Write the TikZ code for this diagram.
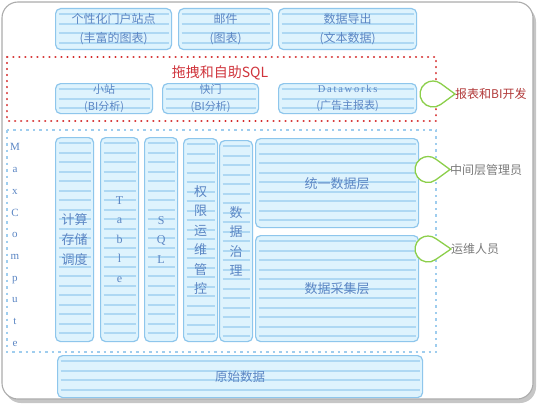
\documentclass[tikz,border=0pt]{standalone}
\usepackage{fontspec}
\setmainfont{Liberation Serif}
\newfontfamily\cjk{Noto Sans CJK SC}
\usetikzlibrary{calc}
\definecolor{boxfill}{HTML}{DEF3FD}
\definecolor{stripecol}{HTML}{AED8F3}
\definecolor{boxline}{HTML}{8EC6EC}
\definecolor{boxtext}{HTML}{5B86C4}
\definecolor{titlered}{HTML}{D0343C}
\definecolor{dotred}{HTML}{D42A2A}
\definecolor{dotblue}{HTML}{9FCDEE}
\definecolor{dropgreen}{HTML}{8CCF4A}
\definecolor{labgray}{HTML}{7A7A7A}
\definecolor{labred}{HTML}{B23A3A}
\tikzset{
  stripeline/.style={draw=stripecol, line width=1.9pt},
  stripebox/.style={draw=boxline, fill=boxfill, line width=1.2pt, rounded corners=5pt,
    anchor=north west, inner sep=0pt, text=boxtext, align=center,
    font=\cjk\fontsize{12}{19}\selectfont,
    path picture={\foreach \k in {1,...,45}{
      \draw[stripeline] ([xshift=3pt,yshift=-\k*9.5pt+4pt]path picture bounding box.north west)
        -- ([xshift=-3pt,yshift=-\k*9.5pt+4pt]path picture bounding box.north east);}}},
  reddot/.style={draw=dotred, line width=2.4pt, dash pattern=on 0.01pt off 6pt, line cap=round},
  bluedot/.style={draw=dotblue, line width=1.5pt, dash pattern=on 2.5pt off 4pt},
  dropst/.style={draw=dropgreen, line width=1.3pt, fill=white},
  sidelabel/.style={anchor=west, inner sep=0pt, font=\cjk\fontsize{12}{14}\selectfont},
}
\begin{document}
\begin{tikzpicture}[x=1pt,y=-1pt]
\useasboundingbox (0,0) rectangle (537,404);
% outer frame with shadow
\fill[gray!45, rounded corners=16pt] (5,6) rectangle (536,403);
\filldraw[fill=white, draw=gray!65, line width=1.1pt, rounded corners=16pt] (2,2) rectangle (533,399);

% dotted regions
\draw[reddot] (7,57) rectangle (436,121);
\draw[bluedot] (7,130) rectangle (436,352);

% top row
\node[stripebox, minimum width=116pt, minimum height=41pt] (portal) at (55,8) {个性化门户站点\\(丰富的图表)};
\node[stripebox, minimum width=94pt, minimum height=41pt] (mail) at (178,8) {邮件\\(图表)};
\node[stripebox, minimum width=138pt, minimum height=41pt] (export) at (278,8) {数据导出\\(文本数据)};

% title
\node[text=titlered, font=\cjk\fontsize{14}{16}\selectfont] (title) at (220,73) {拖拽和自助SQL};

% second row
\node[stripebox, minimum width=97pt, minimum height=30pt, font=\cjk\fontsize{11}{17}\selectfont] (xz) at (55,83) {小站\\(BI分析)};
\node[stripebox, minimum width=96pt, minimum height=30pt, font=\cjk\fontsize{11}{17}\selectfont] (km) at (162,83) {快门\\(BI分析)};
\node[stripebox, minimum width=138pt, minimum height=30pt, font=\cjk\fontsize{11}{17}\selectfont] (dw) at (278,83) {{\rmfamily\fontsize{10.5}{17}\selectfont D\,a\,t\,a\,w\,o\,r\,k\,s}\\(广告主报表)};

% MaxCompute vertical label
\node[text=boxtext, font=\rmfamily\fontsize{11}{21.7}\selectfont, align=center, inner sep=0pt] (mc) at (15,245) {M\\a\\x\\C\\o\\m\\p\\u\\t\\e};

% columns
\node[stripebox, minimum width=38pt, minimum height=204pt, font=\cjk\fontsize{13}{20}\selectfont] (c1) at (55,137) {计算\\存储\\调度};
\node[stripebox, minimum width=38pt, minimum height=204pt, font=\rmfamily\fontsize{12}{19.5}\selectfont] (c2) at (100,137) {T\\a\\b\\l\\e};
\node[stripebox, minimum width=33pt, minimum height=204pt, font=\rmfamily\fontsize{12}{19.5}\selectfont] (c3) at (144,137) {S\\Q\\L};
\node[stripebox, minimum width=34pt, minimum height=203pt, font=\cjk\fontsize{13}{19.5}\selectfont] (c4) at (183,138) {权\\限\\运\\维\\管\\控};
\node[stripebox, minimum width=33pt, minimum height=201pt, font=\cjk\fontsize{13}{19.5}\selectfont] (c5) at (219,140) {数\\据\\治\\理};
\node[stripebox, minimum width=163pt, minimum height=89pt, font=\cjk\fontsize{13}{16}\selectfont] (unify) at (255,138) {统一数据层};
\node[stripebox, minimum width=163pt, minimum height=106pt, font=\cjk\fontsize{13}{16}\selectfont] (collect) at (255,235) {数据采集层};
\node[stripebox, minimum width=365pt, minimum height=42pt, font=\cjk\fontsize{12.5}{16}\selectfont] (raw) at (57,355) {原始数据};

% side labels
\node[sidelabel, text=labred] (l1) at (455,94) {报表和BI开发};
\node[sidelabel, text=labgray] (l2) at (450,169.5) {中间层管理员};
\node[sidelabel, text=labgray] (l3) at (451,249) {运维人员};

% drops
\foreach \l/\cx/\cy in {l1/433/94, l2/428/169.5, l3/428/249}{
  \coordinate (c-\l) at (\cx,\cy);
  \draw[dropst] (\l.west) -- ($(c-\l)+(53.8:13)$) arc[start angle=53.8, end angle=306.2, radius=13] -- cycle;
}
\end{tikzpicture}
\end{document}
